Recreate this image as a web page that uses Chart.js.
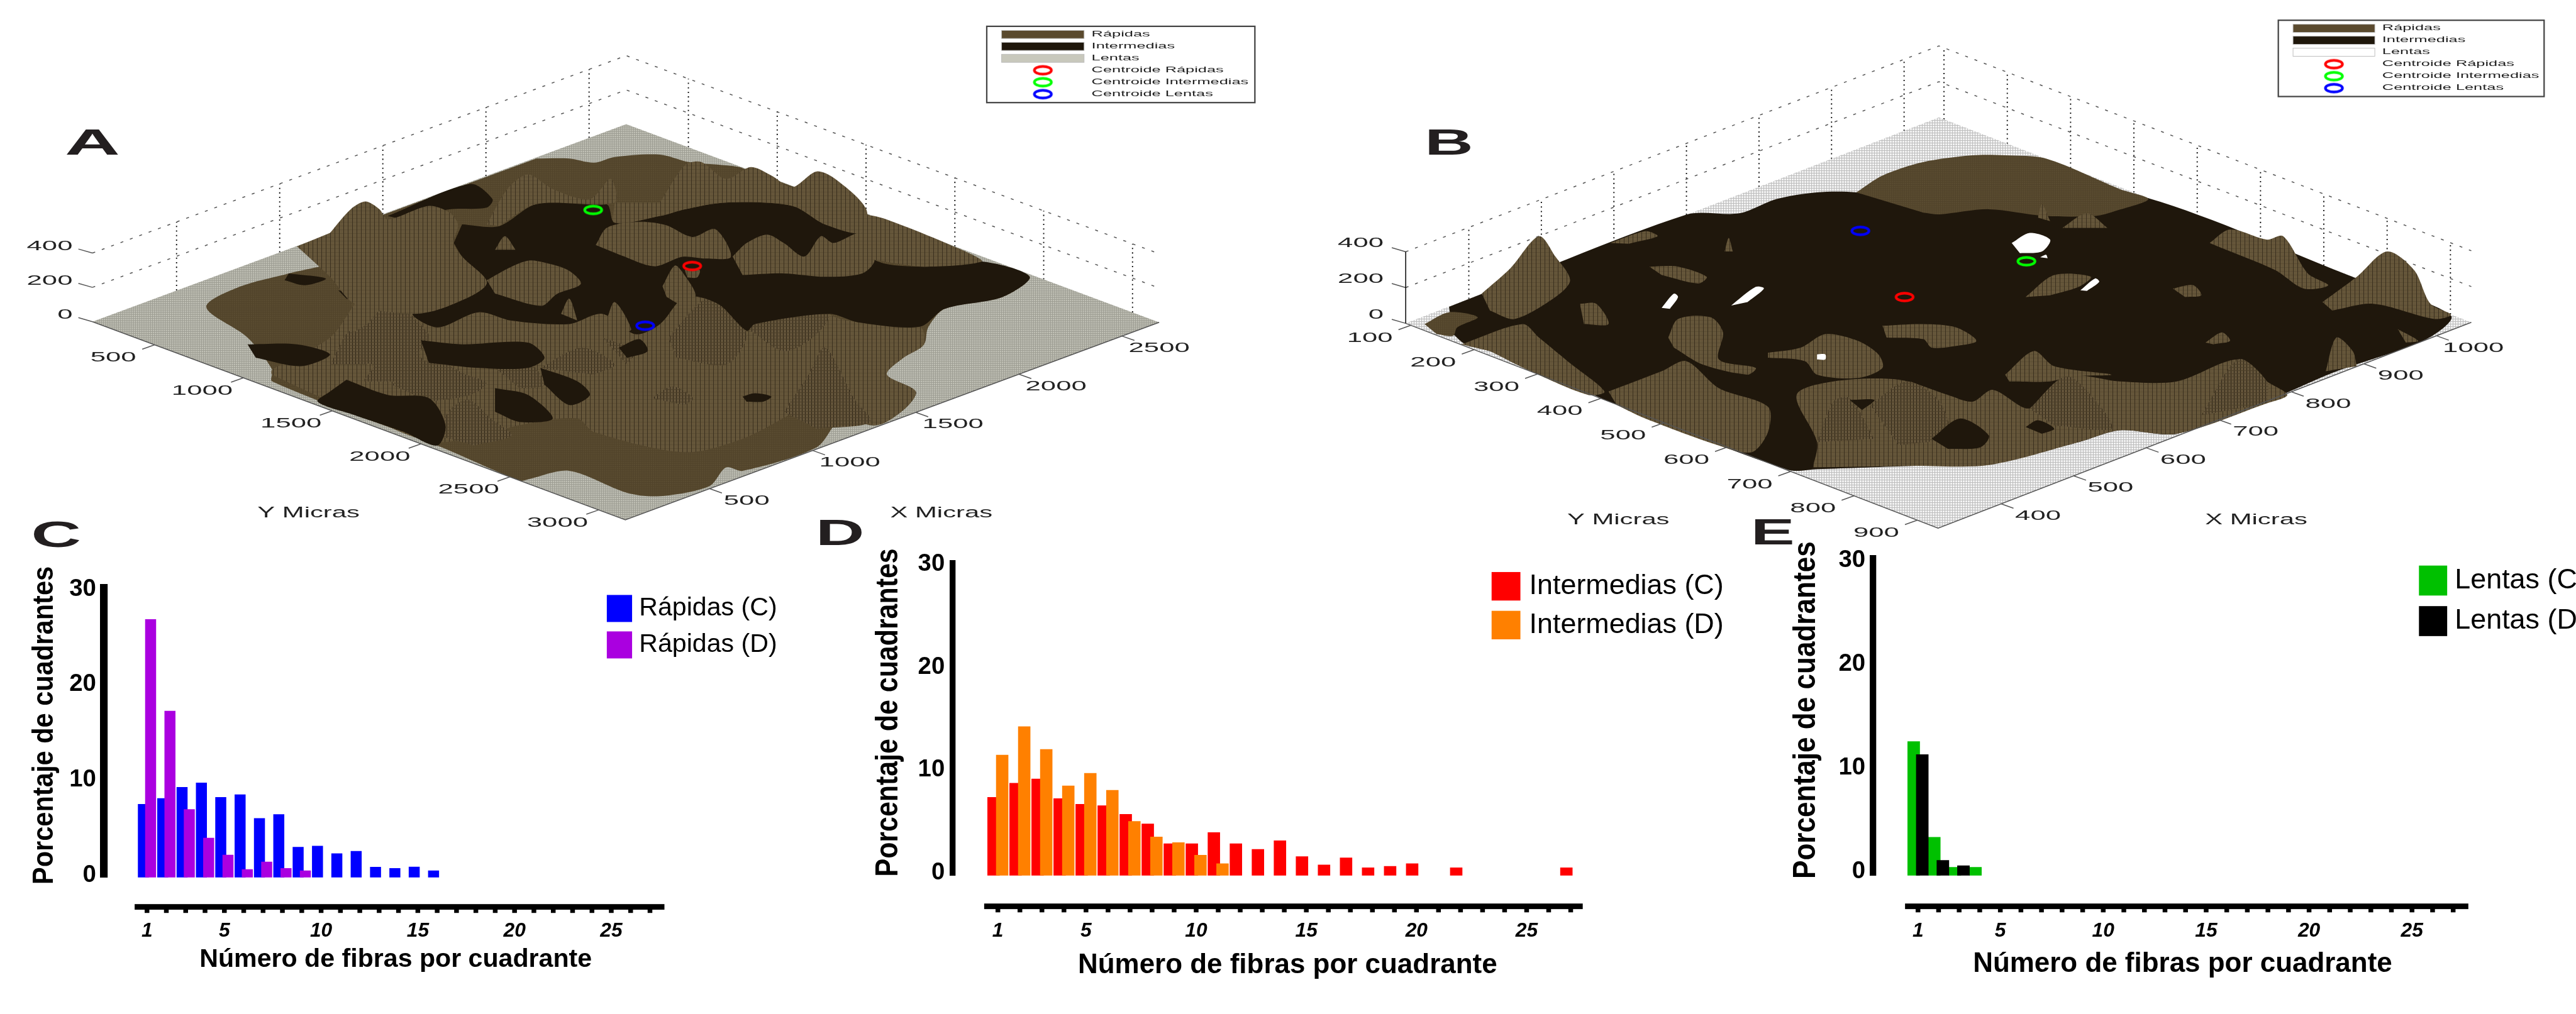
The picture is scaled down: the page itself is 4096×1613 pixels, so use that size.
<!DOCTYPE html>
<html>
<head>
<meta charset="utf-8">
<title>Fibras</title>
<script src="https://cdn.jsdelivr.net/npm/chart.js@4/dist/chart.umd.min.js"></script>
<style>
html,body{margin:0;padding:0;background:#fff;overflow:hidden;width:4096px;height:1613px}
canvas{position:absolute}
</style>
</head>
<body>
<script>
// histogram data
const fibras = [1,2,3,4,5,6,7,8,9,10,11,12,13,14,15,16,17,18,19,20,21,22,23,24,25,26,27]
const xTickLabels = [1,5,10,15,20,25]
const yTickValues = [0,10,20,30]

const rapidasC = [7.44,8.05,9.23,9.68,8.17,8.45,5.96,6.38,2.95,3.07,2.27,2.52,0.86,0.73,0.87,0.48]
const rapidasD = [26.81,17.22,6.91,3.9,2.12,0.61,1.41,0.73,0.48]
const intermediasC = [7.32,8.71,9.11,7.2,6.65,6.51,5.67,4.74,2.81,2.81,3.9,2.81,2.26,3.1,1.57,0.75,1.44,0.48,0.62,0.88,null,0.48,null,null,null,null,0.48]
const intermediasD = [11.44,14.2,11.99,8.44,9.66,8.02,4.99,3.48,2.92,1.7,0.88]
const lentasC = [12.54,3.33,0.43,0.43]
const lentasD = [11.29,1.1,0.59]

// 3D axes ticks
const xTicksA = [500,1000,1500,2000,2500]
const yTicksA = [500,1000,1500,2000,2500,3000]
const xTicksB = [400,500,600,700,800,900,1000]
const yTicksB = [100,200,300,400,500,600,700,800,900]
const zTicks = [0,200,400]
const leyendaNombres = ['Rápidas','Intermedias','Lentas','Centroide Rápidas','Centroide Intermedias','Centroide Lentas']

// surface outlines, in the panel's view units (0-1568 across the panel)
const centroidesA = [[839,788],[719,622],[782,965]]
const centroidesB = [[747,880],[896,774],[693,684]]

const rapidasBaseA = [[650,470,690,470,720,482,745,465,800,458,835,480,880,490,900,498,1160,735,1170,745,1190,775,1248,820,1215,880,1145,915,1125,970,1120,1020,1095,1060,1075,1110,1110,1160,1095,1215,1060,1260,1020,1240,990,1325,900,1395,880,1385,860,1440,800,1470,760,1460,690,1395,640,1420,630,1424,530,1320,330,1130,330,1095,300,1000,250,910,290,850,350,810,410,770,360,730]]
const mallaBajaA = [[500,930,530,970,580,925,620,950,690,960,730,930,770,990,800,960,830,880,870,900,905,980,915,960,925,840,955,835,975,820,995,870,1005,930,1040,955,1115,968,1120,1020,1095,1060,1075,1110,1110,1160,1095,1215,1060,1260,1000,1190,900,1300,830,1340,720,1280,700,1240,640,1255,530,1310,440,1230,330,1110,330,1095,400,1000,430,900]]
const picosA = [
  [415,1060,430,985,445,960,475,890,505,950,520,1000,500,1060,470,1090],
  [400,1080,425,980,445,1080],
  [440,1130,470,1040,495,1020,520,1100,510,1130],
  [475,1140,520,1065,565,1110,590,1135,570,1170,520,1190],
  [530,1290,545,1215,568,1185,595,1240,620,1290,575,1320],
  [600,1090,625,1015,640,1060,660,1140,630,1150],
  [655,1090,705,1030,745,1080,720,1110],
  [810,1000,860,880,895,950,905,1000,880,1080,820,1060],
  [895,940,925,840,955,835,975,820,1005,930,985,1000,950,1040,910,980],
  [950,1220,980,1110,1000,1030,1035,1180,1055,1250,990,1270],
  [790,1180,815,1145,840,1180,830,1200],
  [730,1000,770,1040,760,1080]
]
const oscurasA = [
  [560,665,605,670,650,605,735,605,745,660,800,640,830,620,880,600,960,610,1000,665,1045,690,1060,770,1120,790,1190,775,1248,820,1215,880,1145,915,1115,968,1040,955,1005,930,915,960,905,980,870,900,830,880,800,960,770,990,730,930,690,960,620,950,580,925,530,970,500,930,540,910,590,840,560,760,550,720],
  [470,640,570,545,597,590,590,615,545,620,510,640,495,655],
  [510,1008,560,1020,640,1015,660,1060,640,1090,580,1090,520,1075],
  [420,1125,470,1170,520,1180,540,1260,530,1320,490,1280,430,1230,385,1190,400,1160],
  [300,1020,360,1020,400,1050,365,1085,310,1060],
  [350,810,395,825,370,845,345,830],
  [655,1090,700,1130,715,1170,690,1200,660,1140],
  [600,1150,640,1170,670,1240,630,1250,600,1220],
  [900,1175,915,1165,935,1175,925,1190,905,1190],
  [410,860,445,880,420,885],
  [750,1030,775,1005,785,1040,760,1060]
]
const mallaA = [
  [400,690,425,620,443,597,460,620,470,650,520,610,545,630,555,665,550,720,560,760,590,840,540,910,500,930,430,900,400,820,360,730],
  [590,665,615,560,640,517,670,560,715,590,740,530,745,600,650,605,605,670],
  [800,600,830,490,850,480,880,530,910,495,935,520,960,555,990,508,1015,535,1050,620,1045,690,1000,665,960,610,880,600,830,620,800,640,745,660,745,600],
  [590,830,620,790,641,772,660,778,689,801,704,841,675,871,656,906,600,870],
  [722,726,736,674,775,657,807,667,839,702,867,679,886,761,855,766,827,761,793,789,750,754],
  [888,760,905,720,930,695,950,720,975,760,995,700,1010,720,1045,690,1060,770,1045,810,1000,820,950,810,900,815],
  [1045,690,1050,640,1080,655,1170,745,1190,775,1120,790,1060,770],
  [803,848,818,787,829,813,843,876,825,900,808,880],
  [830,800,848,800,845,822,833,822],
  [600,740,612,700,625,740],
  [680,930,690,885,700,950],
  [735,950,745,895,765,975,755,990]
]

const oscurasB = [
  [190,909,480,636,545,632,590,590,640,570,688,570,770,600,850,590,920,600,980,600,1045,587,1300,825,1415,935,1385,1005,1270,1105,1185,1194,1080,1285,1010,1275,960,1310,850,1375,760,1380,640,1390,605,1392,380,1184,300,1090,240,1040,210,1020,195,990]
]
const rapidasBaseB = [
  [688,570,720,520,770,480,830,460,870,460,920,470,1010,560,1045,590,1005,625,980,640,920,640,850,620,790,635,770,630],
  [160,960,190,925,225,940,200,970,195,995,175,990]
]
const mallaB = [
  [635,1385,640,1310,615,1170,660,1130,740,1125,800,1170,830,1190,855,1155,900,1210,945,1115,1010,1130,1080,1130,1155,1065,1190,1130,1215,1170,1190,1195,1080,1285,1010,1275,960,1310,850,1378,760,1380],
  [385,1160,450,1100,480,1070,520,1150,580,1205,580,1280,560,1340,520,1320,430,1240,395,1200],
  [205,1020,280,960,300,1000,340,1080,380,1160,360,1170,290,1100,240,1040],
  [230,870,265,795,300,700,320,760,338,830,320,880,270,945,240,920],
  [350,900,370,900,385,960,355,960],
  [435,790,470,790,505,820,495,840,450,815],
  [387,720,430,685,445,700,410,722],
  [527,745,532,705,537,745],
  [895,880,930,815,975,820,960,850,925,875],
  [1075,855,1100,845,1110,875,1090,880],
  [1115,1015,1135,985,1145,1010,1125,1020],
  [720,965,770,960,810,970,835,1010,810,1025,780,1030,770,1005,725,1000],
  [458,1000,470,945,510,940,525,985,520,1065,565,1090,555,1110,500,1080,465,1030],
  [580,1045,620,1030,650,990,690,1010,715,1050,720,1090,690,1120,640,1110,625,1070,580,1060],
  [870,1110,905,1040,930,1085,1000,1110,950,1115,925,1130,875,1130],
  [910,645,915,605,925,655],
  [940,675,970,632,995,675],
  [1120,720,1145,680,1190,710,1210,700,1240,810,1265,845,1235,855,1200,800,1130,730],
  [1258,895,1300,820,1337,745,1370,800,1390,900,1415,932,1395,945,1320,900,1270,920],
  [1262,1100,1275,1000,1295,1040,1300,1085],
  [1350,975,1375,1010,1360,1015]
]
const picosB = [
  [640,1310,660,1190,680,1180,710,1300],
  [705,1200,750,1130,790,1190,800,1290,740,1320],
  [900,1210,945,1115,985,1200,1000,1270,930,1260],
  [1110,1230,1155,1065,1190,1130,1190,1195]
]
const oscurasSobreB = [
  [780,1300,815,1240,850,1290,840,1325,800,1330],
  [895,1265,910,1245,930,1270,915,1285],
  [680,1185,710,1185,695,1215]
]
const huecosB = [
  [878,720,900,690,925,710,915,745,888,750],
  [535,905,565,850,575,855,555,895],
  [450,912,465,870,470,880,460,915],
  [962,860,980,825,985,835,970,862],
  [640,1050,650,1050,650,1065,640,1065],
  [913,762,920,755,922,765]
]

const S = 4096 / 4381
const px = n => n * S
const BROWN = '#5a4c31', DARK = '#1f170c'

function pattern(w, h, draw) {
  const c = document.createElement('canvas')
  c.width = w; c.height = h
  draw(c.getContext('2d'))
  return c.getContext('2d').createPattern(c, 'repeat')
}
const mesh = pattern(7, 6, g => {
  g.fillStyle = '#65563a'; g.fillRect(0, 0, 7, 6)
  g.fillStyle = '#5a4c32'; g.fillRect(0, 5, 7, 1)
  g.fillStyle = '#3a2f1e'; g.fillRect(0, 0, 1, 6)
})
const meshOscura = pattern(5, 5, g => {
  g.fillStyle = '#63543a'; g.fillRect(0, 0, 5, 5)
  g.fillStyle = '#2d2416'; g.fillRect(0, 0, 1, 5)
  g.fillStyle = '#4c3f28'; g.fillRect(0, 4, 5, 1)
})
const flat = pattern(3, 3, g => {
  g.fillStyle = BROWN; g.fillRect(0, 0, 3, 3)
  g.fillStyle = '#51432a'; g.fillRect(0, 2, 3, 1); g.fillRect(2, 0, 1, 3)
})
const floorA = pattern(3, 3, g => {
  g.fillStyle = '#c4c4b9'; g.fillRect(0, 0, 3, 3)
  g.fillStyle = '#9c9c92'; g.fillRect(0, 2, 3, 1); g.fillRect(2, 0, 1, 3)
})
const floorB = pattern(4, 4, g => {
  g.fillStyle = '#f2f2f2'; g.fillRect(0, 0, 4, 4)
  g.fillStyle = '#bdbdbd'; g.fillRect(0, 3, 4, 1); g.fillRect(3, 0, 1, 4)
})

function ring(color) {
  const c = document.createElement('canvas')
  c.width = Math.ceil(px(38)); c.height = Math.ceil(px(22))
  const g = c.getContext('2d')
  g.strokeStyle = color; g.lineWidth = px(4.5)
  g.beginPath()
  g.ellipse(c.width / 2, c.height / 2, px(14.5), px(6.6), 0, 0, Math.PI * 2)
  g.stroke()
  return c
}
const rings = ['#ff0000', '#00ff00', '#0000ff'].map(ring)

function addCanvas(rx, ry, rw, rh) {
  const c = document.createElement('canvas')
  c.width = Math.round(px(rw)); c.height = Math.round(px(rh))
  c.style.left = px(rx) + 'px'; c.style.top = px(ry) + 'px'
  document.body.appendChild(c)
  return c
}

function stretched(ctx, text, x, y, font, sx, align, color, rot) {
  ctx.save()
  ctx.translate(x, y)
  if (rot) ctx.rotate(rot)
  ctx.scale(sx || 1, 1)
  ctx.font = font
  ctx.fillStyle = color || '#000'
  ctx.textAlign = align || 'center'
  ctx.textBaseline = 'middle'
  ctx.fillText(text, 0, 0)
  ctx.restore()
}

function toPts(flatList) {
  const out = []
  for (let i = 0; i < flatList.length; i += 2) out.push({x: flatList[i], y: flatList[i + 1]})
  return out
}
function poly(flatList, color, tension) {
  return {type: 'line', data: toPts(flatList), fill: 'shape', backgroundColor: color, borderWidth: 0, pointRadius: 0, tension: tension}
}
function seg(points, color, width, dash) {
  return {type: 'line', data: points, fill: false, borderColor: color, borderWidth: width, borderDash: dash || [], pointRadius: 0, tension: 0}
}

function panel3d(p) {
  const dx = p.xr[1] - p.xr[0], dy = p.yr[1] - p.yr[0]
  const project = (x, y, z) => ({
    x: p.bottom[0] + (x - p.xr[0]) / dx * (p.right[0] - p.bottom[0]) + (p.yr[1] - y) / dy * (p.left[0] - p.bottom[0]),
    y: p.bottom[1] + (x - p.xr[0]) / dx * (p.right[1] - p.bottom[1]) + (p.yr[1] - y) / dy * (p.left[1] - p.bottom[1]) - z * p.zUnit
  })
  const [x0, x1] = p.xr, [y0, y1] = p.yr
  const ds = []

  // back walls
  zTicks.filter(z => z > 0).forEach(z => ds.push(seg([project(x0, y0, z), project(x1, y0, z), project(x1, y1, z)], '#555', px(1.6), [px(5), px(12)])))
  p.xTicks.forEach(t => ds.push(seg([project(t, y0, 0), project(t, y0, 400)], '#111', px(2), [px(2.2), px(5.5)])))
  p.yTicks.forEach(t => ds.push(seg([project(x1, t, 0), project(x1, t, 400)], '#111', px(2), [px(2.2), px(5.5)])))

  ds.push(poly([p.left[0], p.left[1], project(x1, y0, 0).x, project(x1, y0, 0).y, p.right[0], p.right[1], p.bottom[0], p.bottom[1]], p.floor, 0))
  p.layers.forEach(l => l.polys.forEach(f => ds.push(poly(f, l.color, 0.3))))

  // axis box and tick marks
  ds.push(seg([project(x0, y0, 0), project(x0, y1, 0), project(x1, y1, 0)], '#555', px(1.6)))
  zTicks.forEach(z => {
    const a = project(x0, y0, z)
    ds.push(seg([a, {x: a.x - 17, y: a.y - 12}], '#555', px(1.6)))
  })
  if (p.zLine) ds.push(seg([project(x0, y0, 0), project(x0, y0, 400)], '#000', px(1.6)))
  p.yTicks.forEach(t => {
    const a = project(x0, t, 0)
    ds.push(seg([a, {x: a.x - 15, y: a.y + 13}], '#555', px(1.6)))
  })
  p.xTicks.forEach(t => {
    const a = project(t, y1, 0)
    ds.push(seg([a, {x: a.x + 15, y: a.y + 13}], '#555', px(1.6)))
  })

  // centroids, also the legend rings
  const rowsY = leyendaNombres.map((n, i) => p.legend[1] + 24 + i * 35.4)
  const ringX = p.legend[0] + 68
  ;[0, 1, 2].forEach(i => {
    ds.push({type: 'line', showLine: false, data: [{x: p.centroids[i][0], y: p.centroids[i][1]}, {x: ringX, y: rowsY[i + 3]}], pointStyle: rings[i], pointRadius: 10})
  })

  const textPlugin = {
    id: 'panelText',
    beforeDatasetsDraw(chart) {
      const ctx = chart.ctx, sx = chart.scales.x, sy = chart.scales.y
      const X = v => sx.getPixelForValue(v), Y = v => sy.getPixelForValue(v)
      ctx.save()
      ctx.fillStyle = '#fff'
      ctx.strokeStyle = '#444'
      ctx.lineWidth = px(2.4)
      const l = p.legend
      ctx.fillRect(X(l[0]), Y(l[1]), X(l[0] + 325) - X(l[0]), Y(l[1] + 226) - Y(l[1]))
      ctx.strokeRect(X(l[0]), Y(l[1]), X(l[0] + 325) - X(l[0]), Y(l[1] + 226) - Y(l[1]))
      p.swatches.forEach((col, i) => {
        ctx.fillStyle = col
        ctx.fillRect(X(l[0] + 18), Y(rowsY[i] - 12), X(l[0] + 118) - X(l[0] + 18), Y(rowsY[i] + 12) - Y(rowsY[i] - 12))
        ctx.strokeStyle = '#bbb'
        ctx.lineWidth = px(1)
        ctx.strokeRect(X(l[0] + 18), Y(rowsY[i] - 12), X(l[0] + 118) - X(l[0] + 18), Y(rowsY[i] + 12) - Y(rowsY[i] - 12))
      })
      ctx.restore()
    },
    afterDraw(chart) {
      const ctx = chart.ctx, sx = chart.scales.x, sy = chart.scales.y
      const X = v => sx.getPixelForValue(v), Y = v => sy.getPixelForValue(v)
      const tickFont = px(24) + 'px "Liberation Sans"'
      p.xTicks.forEach(t => {
        const a = project(t, y1, 0)
        stretched(ctx, String(t), X(a.x + 45), Y(a.y + 36), tickFont, 1.95, 'center', '#222')
      })
      p.yTicks.forEach(t => {
        const a = project(x0, t, 0)
        stretched(ctx, String(t), X(a.x - 50), Y(a.y + 38), tickFont, 1.95, 'center', '#222')
      })
      zTicks.forEach(z => {
        const a = project(x0, y0, z)
        stretched(ctx, String(z), X(a.x - p.zLabel[0]), Y(a.y - p.zLabel[1]), tickFont, 1.95, 'right', '#222')
      })
      const lab = px(26) + 'px "Liberation Sans"'
      stretched(ctx, 'Y Micras', X(p.yTitle[0]), Y(p.yTitle[1]), lab, 1.72, 'center', '#222')
      stretched(ctx, 'X Micras', X(p.xTitle[0]), Y(p.xTitle[1]), lab, 1.72, 'center', '#222')
      stretched(ctx, p.letter, X(p.letterAt[0]), Y(p.letterAt[1]), 'bold ' + px(62) + 'px "Liberation Sans"', p.letterSx, 'center', '#231f20')
      leyendaNombres.forEach((n, i) => {
        stretched(ctx, n, X(p.legend[0] + 127), Y(rowsY[i]), px(13) + 'px "Liberation Sans"', 2.09, 'left', '#222')
      })
    }
  }

  ds.reverse()  // chart.js paints the first dataset last
  new Chart(addCanvas(p.box[0], p.box[1], p.box[2], p.box[3]), {
    type: 'line',
    data: {datasets: ds},
    options: {
      responsive: false, animation: false, devicePixelRatio: 1,
      layout: {padding: 0, autoPadding: false},
      plugins: {legend: {display: false}, tooltip: {enabled: false}},
      events: [],
      scales: {
        x: {type: 'linear', display: false, min: 0, max: 1568},
        y: {type: 'linear', display: false, reverse: true, min: 0, max: p.box[3] * 1568 / 900}
      }
    },
    plugins: [textPlugin]
  })
}

function histogram(h) {
  const pts = (vals, shift) => vals.map((v, i) => v == null ? null : {x: fibras[i] + shift, y: v}).filter(Boolean)
  const shift = h.offset / 2 / h.pitch
  const first = (arr, col, label, sgn, order) => ({label: label, data: pts(arr, sgn * shift), backgroundColor: col, base: h.ymin, barThickness: px(h.barW), grouped: false, order: order})
  const [left, top, right, bottom] = h.area
  const cx = h.box[0], cy = h.box[1], cw = h.box[2], ch = h.box[3]
  const toX = v => px(v - cx), toY = v => px(v - cy)

  const deco = {
    id: 'deco',
    afterDraw(chart) {
      const ctx = chart.ctx, sx = chart.scales.x
      ctx.save()
      ctx.fillStyle = '#000'
      ctx.fillRect(toX(h.xLine[0]), toY(h.xLine[2]), px(h.xLine[1] - h.xLine[0]), px(9.5))
      fibras.forEach(n => {
        ctx.fillRect(sx.getPixelForValue(n) - px(4), toY(h.xLine[2]) + px(9), px(8), px(6))
      })
      ctx.restore()
      const tf = 'bold ' + px(h.xTitleFont) + 'px "Liberation Sans"'
      stretched(ctx, 'Número de fibras por cuadrante', toX(h.xTitle[0]), toY(h.xTitle[1]), tf)
      const yf = 'bold ' + px(h.yTitleFont) + 'px "Liberation Sans"'
      stretched(ctx, 'Porcentaje de cuadrantes', toX(h.yTitle[0]), toY(h.yTitle[1]), yf, h.yTitleSx, 'center', '#000', -Math.PI / 2)
      stretched(ctx, h.letter, toX(h.letterAt[0]), toY(h.letterAt[1]), 'bold ' + px(62) + 'px "Liberation Sans"', h.letterSx, 'center', '#231f20')
      // legend
      chart.data.datasets.forEach((d, i) => {
        const y = h.legend.y[i]
        ctx.fillStyle = d.backgroundColor
        ctx.fillRect(toX(h.legend.x), toY(y), px(h.legend.w), px(h.legend.h))
        stretched(ctx, d.label, toX(h.legend.tx), toY(y + h.legend.h / 2), px(h.legend.font) + 'px "Liberation Sans"', 1, 'left', '#000')
      })
    }
  }

  new Chart(addCanvas(cx, cy, cw, ch), {
    type: 'bar',
    data: {
      datasets: [
        first(h.series[0], h.colors[0], h.labels[0], -1, 2),
        first(h.series[1], h.colors[1], h.labels[1], 1, 1)
      ]
    },
    options: {
      responsive: false, animation: false, devicePixelRatio: 1,
      layout: {autoPadding: false, padding: {left: 0, top: px(top - cy), right: px(cx + cw - right), bottom: 0}},
      plugins: {legend: {display: false}, tooltip: {enabled: false}},
      events: [],
      scales: {
        x: {
          type: 'linear', min: h.xmin, max: h.xmax, offset: false,
          grid: {display: false}, border: {display: false},
          afterFit: s => { s.height = px(cy + ch - bottom) },
          afterBuildTicks: s => { s.ticks = fibras.map(v => ({value: v})) },
          ticks: {
            autoSkip: false, maxRotation: 0, padding: px(h.xTickPad), color: '#000',
            font: {family: 'Liberation Sans', size: px(34), weight: 'bold', style: 'italic'},
            callback: v => xTickLabels.includes(v) ? String(v) : ''
          }
        },
        y: {
          type: 'linear', min: h.ymin, max: h.ymax,
          grid: {drawOnChartArea: false, tickLength: px(3), tickWidth: px(6), tickColor: '#000'},
          border: {display: true, width: px(h.yLineW), color: '#000'},
          afterFit: s => { s.width = px(left - cx) },
          afterBuildTicks: s => { s.ticks = yTickValues.map(v => ({value: v})) },
          ticks: {padding: px(10), color: '#000', font: {family: 'Liberation Sans', size: px(41), weight: 'bold'}}
        }
      }
    },
    plugins: [deco]
  })
}

panel3d({
  box: [0, 0, 2200, 960], letter: 'A', letterAt: [112, 428], letterSx: 2.1,
  left: [112, 953], right: [1405, 955], bottom: [758, 1540],
  xr: [92, 2680], yr: [150, 3150], zUnit: 0.508, zLine: false, zLabel: [24, 20],
  xTicks: xTicksA, yTicks: yTicksA, floor: floorA,
  legend: [1196, 78], swatches: ['#5a4a2e', '#1f170b', '#c8c8bc'], centroids: centroidesA,
  yTitle: [374, 1521], xTitle: [1141, 1521],
  layers: [
    {polys: rapidasBaseA, color: flat},
    {polys: mallaBajaA, color: mesh},
    {polys: picosA, color: meshOscura},
    {polys: oscurasA, color: DARK},
    {polys: mallaA, color: mesh}
  ]
})

panel3d({
  box: [2200, 0, 2181, 960], letter: 'B', letterAt: [190, 428], letterSx: 1.85,
  left: [137, 958], right: [1440, 955], bottom: [788, 1565],
  xr: [313, 1048], yr: [92, 933], zUnit: 0.53, zLine: true, zLabel: [27, 25],
  xTicks: xTicksB, yTicks: yTicksB, floor: floorB,
  legend: [1204, 60], swatches: ['#5a4a2e', '#1f170b', '#ffffff'], centroids: centroidesB,
  yTitle: [397, 1540], xTitle: [1177, 1540],
  layers: [
    {polys: oscurasB, color: DARK},
    {polys: rapidasBaseB, color: flat},
    {polys: mallaB, color: mesh},
    {polys: picosB, color: meshOscura},
    {polys: oscurasSobreB, color: DARK},
    {polys: huecosB, color: '#ffffff'}
  ]
})

histogram({
  box: [0, 880, 1400, 845], area: [176.5, 1000, 1130, 1492.6],
  series: [rapidasC, rapidasD], colors: ['#0000ff', '#aa00e0'], labels: ['Rápidas (C)', 'Rápidas (D)'],
  pitch: 32.9, offset: 12.3, barW: 18, xmin: -1.234, xmax: 27.75, ymin: -0.22, ymax: 30.12, yLineW: 13,
  xLine: [229, 1130, 1538], xTickPad: 62, xTitle: [673, 1633], xTitleFont: 44, yTitle: [76, 1234], yTitleFont: 50, yTitleSx: 0.89,
  letter: 'C', letterAt: [95.5, 913], letterSx: 1.9,
  legend: {x: 1032, w: 43, h: 46, y: [1012, 1074], tx: 1087, font: 44}
})

histogram({
  box: [1380, 880, 1560, 845], area: [1620, 958, 2692, 1489.4],
  series: [intermediasC, intermediasD], colors: ['#ff0000', '#ff8000'], labels: ['Intermedias (C)', 'Intermedias (D)'],
  pitch: 37.45, offset: 14.7, barW: 20.3, xmin: -1.064, xmax: 27.56, ymin: -0.28, ymax: 30.1, yLineW: 10,
  xLine: [1674, 2692, 1537], xTickPad: 66, xTitle: [2190, 1642], xTitleFont: 47, yTitle: [1512, 1212], yTitleFont: 54, yTitleSx: 0.85,
  letter: 'D', letterAt: [1429, 910], letterSx: 1.85,
  legend: {x: 2537, w: 49, h: 48.5, y: [973, 1039], tx: 2601, font: 48}
})

histogram({
  box: [2950, 880, 1600, 845], area: [3185.5, 950, 4198, 1489.4],
  series: [lentasC, lentasD], colors: ['#00c000', '#000000'], labels: ['Lentas (C)', 'Lentas (D)'],
  pitch: 35, offset: 14.6, barW: 20.5, xmin: -1.186, xmax: 27.74, ymin: -0.36, ymax: 30.17, yLineW: 11,
  xLine: [3240, 4198, 1537], xTickPad: 66, xTitle: [3712, 1640], xTitleFont: 47, yTitle: [3072, 1208], yTitleFont: 53, yTitleSx: 0.89,
  letter: 'E', letterAt: [3015, 909], letterSx: 1.8,
  legend: {x: 4114, w: 48, h: 51, y: [962, 1031], tx: 4175, font: 48}
})
</script>
</body>
</html>
